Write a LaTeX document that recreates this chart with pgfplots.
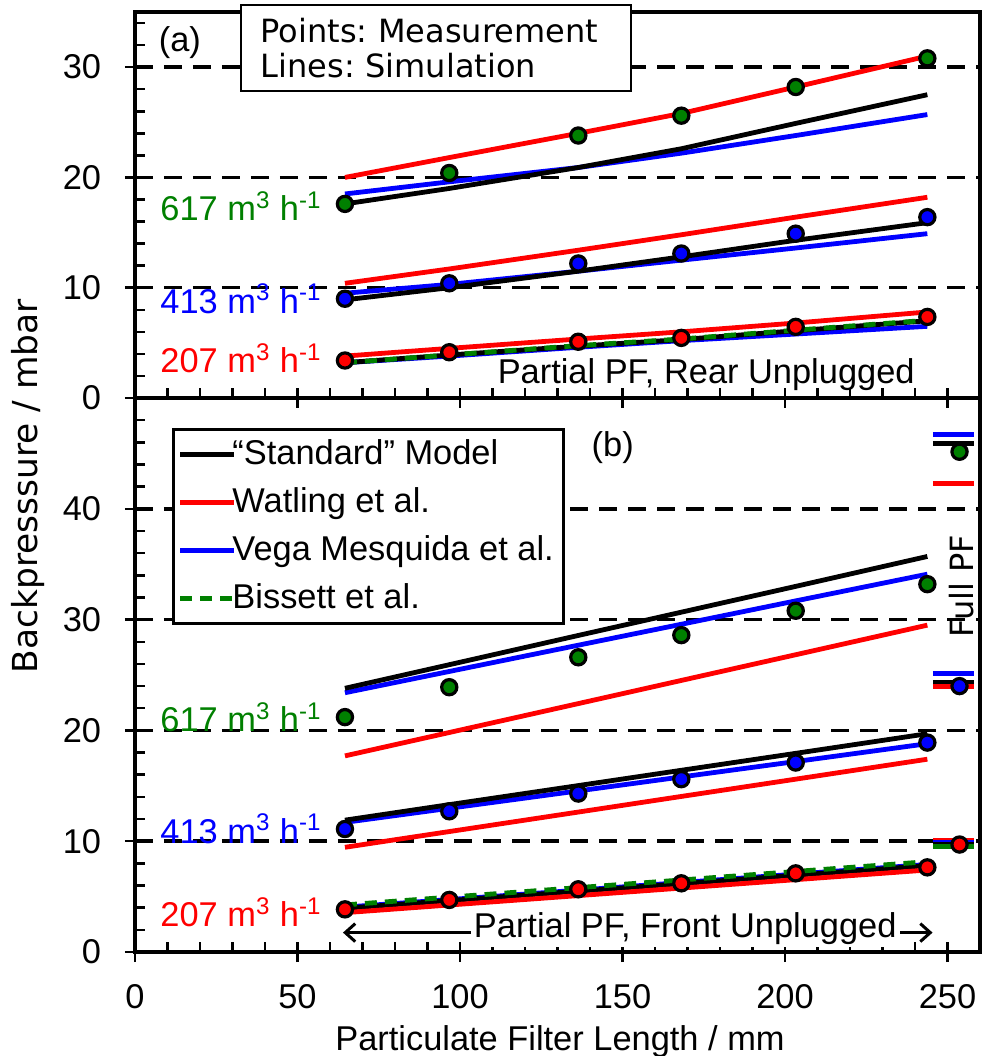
\documentclass[border=0pt]{standalone}
\usepackage{fontspec}
\setmainfont{Liberation Sans}
\newfontfamily\dejavu{DejaVu Sans}
\usepackage{pgfplots}
\usepackage{pgfplotstable}
\pgfplotsset{compat=1.18}
\usetikzlibrary{arrows.meta}
\definecolor{pgreen}{RGB}{0,128,0}

\pgfplotstableread{
x      m617 m413 m207  s617  w617  v617  s413  w413  v413  s207 w207 v207 b207
64.6   17.6 9.0  3.4   17.6  20.0  18.5  8.9   10.4  9.5   3.2  3.8  3.2  3.2
96.7   20.4 10.4 4.15  19.0  21.8  19.6  10.0  11.7  10.3  3.9  4.5  3.8  3.9
136.4  23.8 12.2 5.1   20.9  24.0  20.9  11.5  13.4  11.5  4.7  5.35 4.6  4.75
168.1  25.6 13.1 5.45  22.6  25.8  22.2  12.8  14.8  12.5  5.3  6.0  5.2  5.35
203.3  28.2 14.9 6.45  24.9  28.2  23.8  14.3  16.4  13.6  6.1  6.8  5.8  6.15
243.8  30.8 16.4 7.35  27.5  31.0  25.7  15.9  18.2  14.9  7.0  7.8  6.5  7.05
}\topdata

\pgfplotstableread{
x      m617 m413 m207  s617  w617  v617  s413  w413  v413  s207 w207 v207 b207
64.6   21.2 11.1 3.85  23.8  17.7  23.4  11.9  9.45  11.7  3.95 3.55 4.05 4.25
96.7   23.9 12.7 4.7   25.93 19.81 25.32 13.30 10.87 12.97 4.64 4.24 4.73 4.95
136.4  26.6 14.3 5.66  28.57 22.42 27.69 15.02 12.63 14.54 5.49 5.09 5.58 5.81
168.1  28.6 15.6 6.2   30.67 24.51 29.58 16.40 14.04 15.80 6.17 5.77 6.27 6.50
203.3  30.8 17.1 7.1   33.0  26.83 31.69 17.93 15.60 17.19 6.93 6.53 7.03 7.27
243.8  33.2 18.9 7.64  35.7  29.5  34.1  19.7  17.4  18.8  7.8  7.4  7.9  8.15
}\botdata

\tikzset{flab/.style={anchor=west, inner sep=0pt}}
\pgfplotsset{
  panel/.style={
    scale only axis, width=422.5pt, xmin=0, xmax=260,
    xtick={0,50,...,250}, minor xtick={0,10,...,260},
    xtick pos=left, ytick pos=left,
    tick align=center, major tick length=10pt, minor tick length=5pt,
    every minor x tick/.append style={yshift=2.5pt},
    every minor y tick/.append style={xshift=2.5pt},
    axis line style={line width=1.75pt},
    every tick/.append style={line width=1.25pt, black},
    ymajorgrids,
    major grid style={black, line width=1.75pt, dash pattern=on 9pt off 5.5pt},
    clip=false,
    /pgf/number format/assume math mode=true,
    xticklabel style={yshift=-10pt, inner sep=1pt},
    yticklabel style={xshift=-6pt},
  },
  sline/.style={black, line width=2.4pt, no marks},
  wline/.style={red, line width=2.4pt, no marks},
  vline/.style={blue, line width=2.4pt, no marks},
  bline/.style={pgreen, line width=2.4pt, no marks, dash pattern=on 6pt off 4pt},
  meas/.style={only marks, mark=*, mark size=3.8pt,
    mark options={draw=black, line width=1.6pt, fill=#1}},
}

\begin{document}
\frenchspacing
\fontsize{17.2}{20.6}\selectfont
\begin{tikzpicture}
\path[use as bounding box] (-67.5pt,-52pt) rectangle (424pt,476pt);

% ---------- bottom panel (b) ----------
\begin{axis}[panel, name=bot, at={(0,0)}, anchor=south west, height=277pt,
  ymin=0, ymax=50, ytick={0,10,20,30,40}, minor ytick={0,2,...,50},
  legend style={at={(0.044,0.946)}, anchor=north west, draw=black, line width=1.5pt,
    fill=white, inner sep=2pt, row sep=3pt, nodes={inner sep=3pt},
    /tikz/every odd column/.append style={column sep=-5pt}},
  legend cell align=left,
  legend image code/.code={\draw[#1] (-2pt,0pt) -- (25pt,0pt);},
]
\addplot[vline, forget plot] table[x=x,y=v617]{\botdata};
\addplot[sline, forget plot] table[x=x,y=s617]{\botdata};
\addplot[wline, forget plot] table[x=x,y=w617]{\botdata};
\addplot[vline, forget plot] table[x=x,y=v413]{\botdata};
\addplot[sline, forget plot] table[x=x,y=s413]{\botdata};
\addplot[wline, forget plot] table[x=x,y=w413]{\botdata};
\addplot[vline, forget plot] table[x=x,y=v207]{\botdata};
\addplot[sline, forget plot] table[x=x,y=s207]{\botdata};
\addplot[wline, forget plot] table[x=x,y=w207]{\botdata};
\addplot[bline, forget plot] table[x=x,y=b207]{\botdata};
% full PF
\addplot[vline, forget plot] coordinates {(245.5,46.7) (258.2,46.7)};
\addplot[sline, forget plot] coordinates {(245.5,45.9) (258.2,45.9)};
\addplot[wline, forget plot] coordinates {(245.5,42.3) (258.2,42.3)};
\addplot[vline, forget plot] coordinates {(245.5,25.15) (258.2,25.15)};
\addplot[sline, forget plot] coordinates {(245.5,24.3) (258.2,24.3)};
\addplot[wline, forget plot] coordinates {(245.5,23.95) (258.2,23.95)};
\addplot[wline, forget plot] coordinates {(245.5,10.05) (258.2,10.05)};
\addplot[vline, forget plot] coordinates {(245.5,9.9) (258.2,9.9)};
\addplot[sline, forget plot] coordinates {(245.5,9.75) (258.2,9.75)};
\addplot[pgreen, line width=2.4pt, forget plot] coordinates {(245.5,9.55) (258.2,9.55)};
% measurements
\addplot[meas=pgreen, forget plot] table[x=x,y=m617]{\botdata};
\addplot[meas=blue, forget plot] table[x=x,y=m413]{\botdata};
\addplot[meas=red, forget plot] table[x=x,y=m207]{\botdata};
\addplot[meas=pgreen, forget plot] coordinates {(253.7,45.15)};
\addplot[meas=blue, forget plot] coordinates {(253.7,24.0)};
\addplot[meas=red, forget plot] coordinates {(253.7,9.7)};
% annotations
\node[flab, text=pgreen] at (axis cs:7.7,21.2) {617 m\textsuperscript{3} h\textsuperscript{-1}};
\node[flab, text=blue] at (axis cs:7.7,11.1) {413 m\textsuperscript{3} h\textsuperscript{-1}};
\node[flab, text=red] at (axis cs:7.7,3.6) {207 m\textsuperscript{3} h\textsuperscript{-1}};
\node at (axis cs:147,45.5) {(b)};
\node[rotate=90, font=\dejavu\fontsize{16}{19}\selectfont] at (axis cs:254.3,33.0) {Full PF};
\draw[{Straight Barb[length=5pt,width=9pt]}-{Straight Barb[length=5pt,width=9pt]}, line width=1.5pt]
  (axis cs:64,1.75) -- (axis cs:245.4,1.75);
\node[fill=white, inner sep=1.5pt, anchor=base] at (axis cs:169.3,1.35) {Partial PF, Front Unplugged};
% legend
\addlegendimage{sline}\addlegendentry{“Standard” Model}
\addlegendimage{wline}\addlegendentry{Watling et al.}
\addlegendimage{vline}\addlegendentry{Vega Mesquida et al.}
\addlegendimage{bline}\addlegendentry{Bissett et al.}
\end{axis}

% ---------- top panel (a) ----------
\begin{axis}[panel, name=top, at={(0,277pt)}, anchor=south west, height=193pt,
  ymin=0, ymax=35, ytick={0,10,20,30}, minor ytick={0,2,...,34},
  xticklabels={},
]
\addplot[vline] table[x=x,y=v617]{\topdata};
\addplot[sline] table[x=x,y=s617]{\topdata};
\addplot[wline] table[x=x,y=w617]{\topdata};
\addplot[vline] table[x=x,y=v413]{\topdata};
\addplot[sline] table[x=x,y=s413]{\topdata};
\addplot[wline] table[x=x,y=w413]{\topdata};
\addplot[vline] table[x=x,y=v207]{\topdata};
\addplot[sline] table[x=x,y=s207]{\topdata};
\addplot[wline] table[x=x,y=w207]{\topdata};
\addplot[bline] table[x=x,y=b207]{\topdata};
\addplot[meas=pgreen] table[x=x,y=m617]{\topdata};
\addplot[meas=blue] table[x=x,y=m413]{\topdata};
\addplot[meas=red] table[x=x,y=m207]{\topdata};
\node[flab, text=pgreen] at (axis cs:7.7,17.4) {617 m\textsuperscript{3} h\textsuperscript{-1}};
\node[flab, text=blue] at (axis cs:7.7,9.0) {413 m\textsuperscript{3} h\textsuperscript{-1}};
\node[flab, text=red] at (axis cs:7.7,3.6) {207 m\textsuperscript{3} h\textsuperscript{-1}};
\node at (axis cs:13.8,32.2) {(a)};
\node[anchor=base east, inner sep=0pt] at (axis cs:240,1.35) {Partial PF, Rear Unplugged};
\node[draw=black, line width=1pt, fill=white, anchor=north west, align=left,
  text width=175pt, inner xsep=10pt, inner ysep=6.5pt,
  font=\dejavu\fontsize{16}{17.5}\selectfont] at (axis cs:32.2,35.7)
  {Points: Measurement\\Lines: Simulation};
\end{axis}

% axis labels
\node[anchor=base, inner sep=0pt] at (212.5pt,-49pt) {Particulate Filter Length / mm};
\node[rotate=90, font=\dejavu\fontsize{17.2}{20}\selectfont] at (-53.5pt,233pt) {Backpresssure / mbar};
\end{tikzpicture}
\end{document}
